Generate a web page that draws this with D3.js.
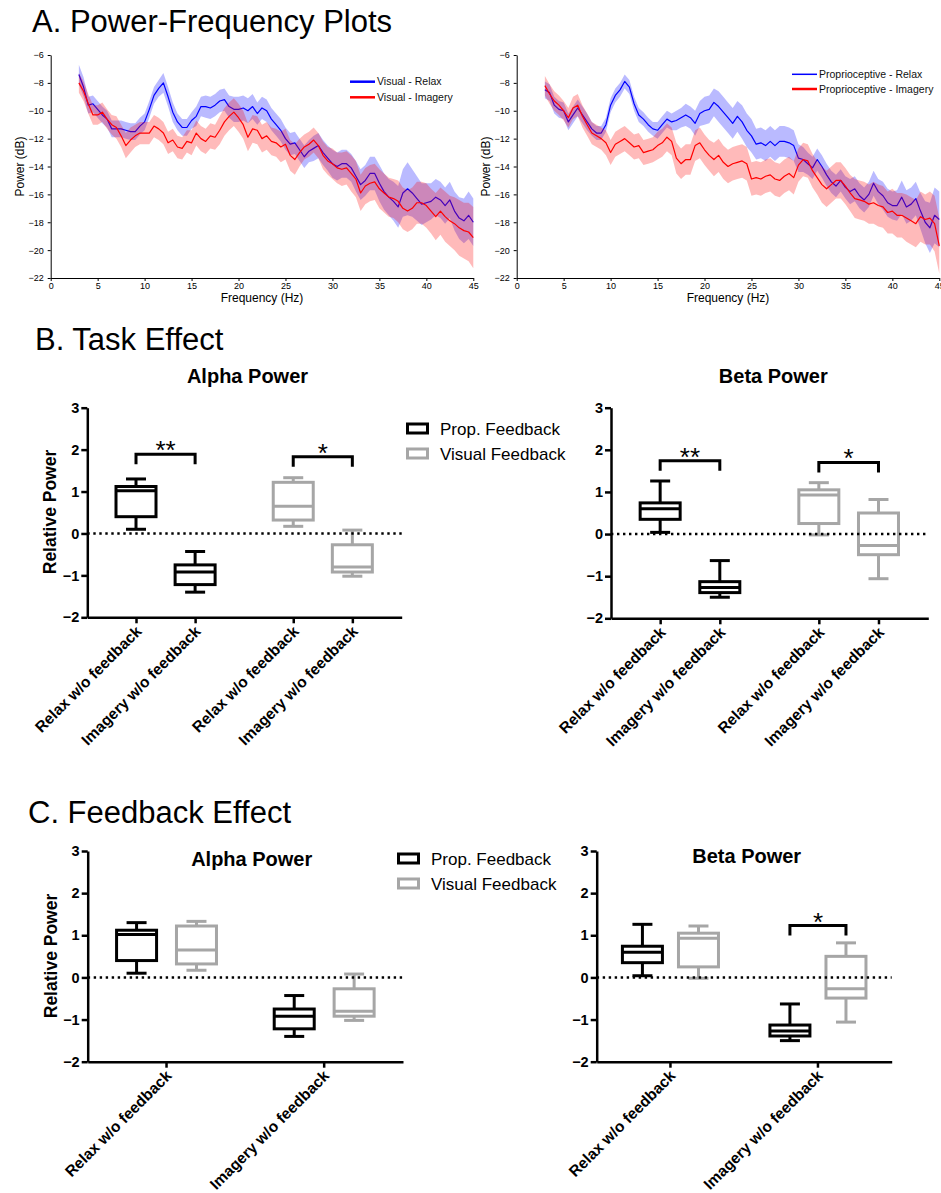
<!DOCTYPE html>
<html>
<head>
<meta charset="utf-8">
<script src="https://cdn.jsdelivr.net/npm/d3@7"></script>
<style>
  body { margin: 0; background: #fff; }
  svg { display: block; }
</style>
</head>
<body>
<svg id="fig" width="941" height="1193"></svg>
<script>
// ---------- Power spectra (mean and SEM, dB) ----------
const freqHz = [
  3, 3.5, 4, 4.5, 5, 5.5, 6, 6.5, 7, 7.5,
  8, 8.5, 9, 9.5, 10, 10.5, 11, 11.5, 12, 12.5,
  13, 13.5, 14, 14.5, 15, 15.5, 16, 16.5, 17, 17.5,
  18, 18.5, 19, 19.5, 20, 20.5, 21, 21.5, 22, 22.5,
  23, 23.5, 24, 24.5, 25, 25.5, 26, 26.5, 27, 27.5,
  28, 28.5, 29, 29.5, 30, 30.5, 31, 31.5, 32, 32.5,
  33, 33.5, 34, 34.5, 35, 35.5, 36, 36.5, 37, 37.5,
  38, 38.5, 39, 39.5, 40, 40.5, 41, 41.5, 42, 42.5,
  43, 43.5, 44, 44.5, 45
];

const visualRelax = [
  -7.4, -8.3, -9.6, -9.5, -9.9, -10.3, -10.6, -11.3, -11.3, -11.3,
  -11.4, -11.5, -11.5, -11.1, -10.8, -9.9, -8.9, -8.4, -8.0, -9.0,
  -10.1, -10.8, -11.2, -11.2, -10.7, -10.4, -9.7, -9.7, -9.8, -9.6,
  -9.3, -9.2, -9.7, -9.9, -9.9, -9.8, -10.0, -9.7, -10.2, -9.8,
  -10.0, -10.6, -11.0, -11.4, -12.0, -12.4, -12.3, -12.8, -13.3, -12.9,
  -12.7, -12.5, -13.0, -13.4, -13.8, -14.0, -13.8, -13.8, -14.1, -14.7,
  -15.3, -15.0, -14.5, -14.5, -15.2, -15.8, -16.2, -16.5, -16.9, -15.9,
  -15.6, -15.9, -16.3, -16.7, -16.6, -16.5, -16.2, -16.4, -16.8, -16.4,
  -17.2, -17.7, -17.9, -17.5, -18.0
];
const visualRelaxSem = [
  0.7, 0.7, 0.6, 0.6, 0.6, 0.6, 0.6, 0.6, 0.6, 0.6,
  0.6, 0.6, 0.6, 0.6, 0.6, 0.6, 0.6, 0.6, 0.7, 0.7,
  0.7, 0.6, 0.6, 0.6, 0.6, 0.7, 0.7, 0.8, 0.8, 0.8,
  0.8, 0.8, 0.8, 0.9, 0.9, 0.9, 0.9, 0.9, 0.8, 0.8,
  0.8, 0.8, 0.8, 0.8, 0.8, 0.8, 0.8, 0.8, 0.8, 0.8,
  0.9, 0.9, 0.9, 0.9, 1.0, 1.0, 1.0, 1.0, 1.0, 1.1,
  1.1, 1.1, 1.2, 1.2, 1.3, 1.3, 1.3, 1.4, 1.5, 1.7,
  1.9, 1.7, 1.6, 1.5, 1.4, 1.3, 1.3, 1.3, 1.3, 1.3,
  1.4, 1.5, 1.6, 1.7, 1.7
];
const visualImagery = [
  -8.0, -8.6, -9.5, -10.3, -10.3, -10.1, -10.6, -11.0, -11.2, -11.8,
  -12.5, -12.1, -11.8, -11.6, -11.6, -11.6, -11.1, -11.3, -11.6, -12.3,
  -12.1, -12.6, -12.7, -12.2, -12.3, -11.6, -12.0, -12.2, -11.8, -11.9,
  -11.4, -10.8, -10.4, -10.1, -10.5, -11.0, -11.9, -11.3, -11.4, -12.0,
  -11.8, -12.2, -12.3, -12.6, -12.4, -13.2, -13.5, -13.0, -12.6, -12.4,
  -12.1, -12.5, -13.2, -13.6, -13.8, -14.1, -14.2, -14.1, -14.5, -14.9,
  -15.9, -15.4, -15.2, -15.1, -15.6, -15.9, -16.2, -16.3, -16.5, -17.0,
  -17.2, -17.0, -16.6, -16.6, -16.8, -17.2, -17.6, -17.2, -17.6, -17.9,
  -18.1, -18.4, -18.6, -18.7, -19.1
];
const visualImagerySem = [
  0.7, 0.7, 0.7, 0.7, 0.7, 0.7, 0.7, 0.7, 0.8, 0.8,
  0.9, 0.9, 0.8, 0.8, 0.8, 0.8, 0.8, 0.8, 0.8, 0.8,
  0.8, 0.8, 0.8, 0.8, 0.9, 0.9, 0.9, 0.9, 0.9, 0.9,
  1.0, 1.0, 1.0, 1.0, 1.0, 1.0, 1.0, 1.0, 1.0, 1.0,
  1.0, 1.0, 1.0, 1.1, 1.1, 1.1, 1.1, 1.0, 0.9, 0.9,
  0.9, 0.9, 1.0, 1.0, 1.1, 1.1, 1.2, 1.2, 1.3, 1.3,
  1.3, 1.3, 1.3, 1.3, 1.4, 1.4, 1.4, 1.4, 1.5, 1.5,
  1.5, 1.5, 1.5, 1.5, 1.6, 1.6, 1.7, 1.7, 1.8, 1.8,
  1.9, 2.0, 2.0, 2.1, 2.2
];
const propRelax = [
  -8.5, -8.7, -9.6, -9.9, -10.0, -10.8, -10.3, -9.8, -10.3, -10.8,
  -11.3, -11.6, -11.6, -11.0, -9.6, -8.9, -8.5, -7.9, -8.3, -9.5,
  -10.3, -10.6, -11.0, -11.3, -11.4, -11.0, -10.6, -10.8, -10.7, -10.5,
  -10.3, -10.5, -10.9, -10.2, -10.0, -9.9, -9.4, -9.7, -10.1, -10.5,
  -10.9, -10.4, -10.8, -11.4, -11.8, -12.4, -12.3, -12.5, -12.2, -12.5,
  -12.2, -12.2, -12.3, -12.5, -13.4, -13.5, -13.8, -14.1, -13.5, -14.0,
  -14.6, -15.1, -15.4, -15.0, -15.5, -15.8, -15.6, -16.1, -16.4, -16.0,
  -15.2, -15.8, -16.1, -16.6, -16.8, -16.8, -16.2, -16.9, -16.7, -16.3,
  -17.2, -18.0, -18.4, -17.5, -17.8
];
const propRelaxSem = [
  0.6, 0.6, 0.6, 0.6, 0.6, 0.6, 0.6, 0.6, 0.6, 0.6,
  0.5, 0.5, 0.5, 0.5, 0.5, 0.5, 0.5, 0.5, 0.5, 0.5,
  0.5, 0.5, 0.5, 0.5, 0.6, 0.6, 0.6, 0.6, 0.7, 0.7,
  0.8, 0.8, 0.9, 0.9, 1.0, 1.0, 1.0, 1.1, 1.1, 1.1,
  1.1, 1.1, 1.2, 1.2, 1.2, 1.1, 1.1, 1.1, 1.1, 1.1,
  1.1, 1.1, 1.1, 1.1, 1.0, 0.9, 0.8, 0.8, 0.8, 0.8,
  0.8, 0.8, 0.8, 0.8, 0.8, 0.9, 0.9, 0.9, 0.9, 0.9,
  0.9, 0.9, 1.0, 1.0, 1.0, 1.1, 1.2, 1.2, 1.2, 1.2,
  1.3, 1.5, 1.8, 2.0, 2.0
];
const propImagery = [
  -8.2, -8.8, -9.3, -9.6, -10.0, -10.5, -9.8, -9.6, -10.4, -11.0,
  -11.6, -11.8, -12.0, -12.3, -13.0, -12.4, -12.2, -12.0, -12.3, -12.6,
  -12.5, -13.0, -12.9, -12.8, -12.5, -12.3, -11.9, -12.2, -13.4, -13.8,
  -13.5, -13.5, -12.5, -12.3, -12.8, -13.2, -13.5, -13.2, -13.7, -14.0,
  -13.8, -13.7, -13.6, -13.8, -14.9, -14.8, -14.9, -14.7, -14.6, -14.9,
  -15.0, -14.7, -14.5, -14.8, -13.9, -13.5, -13.6, -14.3, -14.8, -15.3,
  -15.6, -15.3, -15.0, -15.0, -15.4, -15.9, -16.3, -16.4, -16.5, -16.7,
  -16.6, -16.8, -16.9, -17.3, -17.2, -17.5, -17.5, -17.7, -17.9, -18.1,
  -17.6, -17.8, -17.7, -18.1, -19.7
];
const propImagerySem = [
  0.7, 0.7, 0.7, 0.7, 0.7, 0.7, 0.8, 0.8, 0.8, 0.8,
  0.8, 0.8, 0.8, 0.9, 0.9, 0.9, 0.9, 0.9, 0.9, 0.9,
  0.9, 0.9, 0.9, 0.9, 1.0, 1.0, 1.0, 1.0, 1.1, 1.1,
  1.1, 1.1, 1.1, 1.1, 1.1, 1.1, 1.2, 1.2, 1.2, 1.2,
  1.2, 1.2, 1.2, 1.2, 1.2, 1.2, 1.2, 1.2, 1.2, 1.2,
  1.2, 1.2, 1.2, 1.2, 1.2, 1.2, 1.2, 1.2, 1.2, 1.3,
  1.3, 1.3, 1.3, 1.3, 1.3, 1.3, 1.4, 1.4, 1.4, 1.4,
  1.5, 1.5, 1.5, 1.5, 1.6, 1.6, 1.6, 1.7, 1.7, 1.7,
  1.8, 1.8, 1.9, 2.0, 2.0
];
const dbTicks = [-6, -8, -10, -12, -14, -16, -18, -20, -22];
const hzTicks = [0, 5, 10, 15, 20, 25, 30, 35, 40, 45];

// ---------- Relative power box plots: [min, q1, median, q3, max] ----------
const alphaPropRelax = [0.10, 0.40, 1.02, 1.12, 1.30];
const alphaPropImagery = [-1.40, -1.22, -0.92, -0.75, -0.43];
const alphaVisRelax = [0.17, 0.32, 0.65, 1.22, 1.33];
const alphaVisImagery = [-1.02, -0.92, -0.80, -0.27, 0.08];
const betaPropRelax = [0.04, 0.35, 0.60, 0.74, 1.26];
const betaPropImagery = [-1.50, -1.39, -1.27, -1.13, -0.63];
const betaVisRelax = [-0.02, 0.25, 0.93, 1.05, 1.22];
const betaVisImagery = [-1.06, -0.49, -0.27, 0.50, 0.82];
const conditions = ["Relax w/o feedback", "Imagery w/o feedback"];
const feedbackGroups = ["Prop. Feedback", "Visual Feedback"];
const relTicks = [-2, -1, 0, 1, 2, 3];

// ---------- drawing ----------
const FONT = 'Arial, "Liberation Sans", Helvetica, sans-serif';
const BLACK = "#000000", GRAY = "#a6a6a6";
const svg = d3.select("#fig");
svg.append("rect").attr("width", 941).attr("height", 1193).attr("fill", "#fff");

function styleAxis(sel, size, weight, width) {
  sel.attr("font-family", FONT).attr("font-size", size).attr("font-weight", weight);
  sel.selectAll("path.domain").attr("stroke", "#000").attr("stroke-width", width);
  sel.selectAll(".tick line").attr("stroke", "#000").attr("stroke-width", width);
  sel.selectAll(".tick text").attr("fill", "#000");
}

function heading(txt, x, y) {
  svg.append("text").attr("x", x).attr("y", y).attr("font-family", FONT)
    .attr("font-size", 31).attr("fill", "#000").text(txt);
}

function spectrum(o) {
  const g = svg.append("g");
  const x = d3.scaleLinear().domain([0, 45]).range([o.left, o.right]);
  const y = d3.scaleLinear().domain([-22, -6]).range([o.bottom, o.top]);
  const band = (m, s) => d3.area()
    .x((d, i) => x(freqHz[i]))
    .y0((d, i) => y(m[i] - s[i]))
    .y1((d, i) => y(m[i] + s[i]));
  const trace = m => d3.line().x((d, i) => x(freqHz[i])).y((d, i) => y(m[i]));

  o.series.forEach(s => {
    g.append("path").datum(s.mean).attr("d", band(s.mean, s.sem))
      .attr("fill", s.color).attr("fill-opacity", 0.27).attr("stroke", "none");
    g.append("path").datum(s.mean).attr("d", trace(s.mean))
      .attr("fill", "none").attr("stroke", s.color).attr("stroke-width", 1.2)
      .attr("stroke-linejoin", "round");
  });

  const ya = g.append("g").attr("transform", `translate(${o.left},0)`)
    .call(d3.axisLeft(y).tickValues(dbTicks).tickSize(3).tickSizeOuter(0).tickPadding(4));
  styleAxis(ya, 9, "normal", 1);
  const xa = g.append("g").attr("transform", `translate(0,${o.bottom})`)
    .call(d3.axisBottom(x).tickValues(hzTicks).tickSize(3).tickSizeOuter(0).tickPadding(2));
  styleAxis(xa, 9, "normal", 1);

  g.append("text").attr("x", (o.left + o.right) / 2).attr("y", o.bottom + 24)
    .attr("text-anchor", "middle").attr("font-family", FONT).attr("font-size", 12)
    .text("Frequency (Hz)");
  g.append("text").attr("transform", `translate(${o.left - 27},${(o.top + o.bottom) / 2}) rotate(-90)`)
    .attr("text-anchor", "middle").attr("font-family", FONT).attr("font-size", 12)
    .text("Power (dB)");

  o.series.forEach((s, i) => {
    const ly = o.legendY + i * o.legendStep;
    g.append("line").attr("x1", o.legendX).attr("x2", o.legendX + 25)
      .attr("y1", ly).attr("y2", ly).attr("stroke", s.color).attr("stroke-width", s.legendWidth);
    g.append("text").attr("x", o.legendX + 27).attr("y", ly + 3.6)
      .attr("font-family", FONT).attr("font-size", 10.5).attr("fill", "#111").text(s.name);
  });
}

function drawBox(g, y, cx, stats, color, w) {
  const [mn, q1, med, q3, mx] = stats;
  const sw = 3;
  g.append("line").attr("x1", cx).attr("x2", cx).attr("y1", y(mx)).attr("y2", y(q3))
    .attr("stroke", color).attr("stroke-width", sw);
  g.append("line").attr("x1", cx).attr("x2", cx).attr("y1", y(q1)).attr("y2", y(mn))
    .attr("stroke", color).attr("stroke-width", sw);
  [mn, mx].forEach(v => g.append("line").attr("x1", cx - w / 4).attr("x2", cx + w / 4)
    .attr("y1", y(v)).attr("y2", y(v)).attr("stroke", color).attr("stroke-width", sw));
  g.append("rect").attr("x", cx - w / 2).attr("y", y(q3)).attr("width", w)
    .attr("height", y(q1) - y(q3)).attr("fill", "#fff").attr("stroke", color).attr("stroke-width", sw);
  g.append("line").attr("x1", cx - w / 2).attr("x2", cx + w / 2).attr("y1", y(med)).attr("y2", y(med))
    .attr("stroke", color).attr("stroke-width", sw);
}

function boxPanel(o) {
  const g = svg.append("g");
  const y = d3.scaleLinear().domain([-2, 3]).range([o.bottom, o.top]);
  const boxW = 40;

  o.boxes.forEach(b => drawBox(g, y, b.x, b.stats, b.color, boxW));

  // zero reference line
  g.append("line").attr("x1", o.left).attr("x2", o.right).attr("y1", y(0)).attr("y2", y(0))
    .attr("stroke", "#000").attr("stroke-width", 2.5).attr("stroke-dasharray", "2.4,3.6");

  (o.brackets || []).forEach(br => {
    const by = y(br.level), tip = 10;
    g.append("path").attr("d", `M${br.x1},${by + tip}V${by}H${br.x2}V${by + tip}`)
      .attr("fill", "none").attr("stroke", "#000").attr("stroke-width", 3);
    g.append("text").attr("x", (br.x1 + br.x2) / 2).attr("y", by + 5)
      .attr("text-anchor", "middle").attr("font-family", FONT).attr("font-size", 26)
      .text(br.label);
  });

  const ya = g.append("g").attr("transform", `translate(${o.left},0)`)
    .call(d3.axisLeft(y).tickValues(relTicks).tickFormat(d3.format("d")).tickSize(6).tickSizeOuter(0).tickPadding(2));
  styleAxis(ya, 14.5, "bold", 2.5);

  const xa = g.append("g").attr("transform", `translate(0,${o.bottom})`).call(o.xAxis);
  styleAxis(xa, 15.5, "bold", 2.5);
  xa.selectAll(".tick text").attr("x", 0).attr("y", 0).attr("dy", 0)
    .attr("text-anchor", "end").attr("transform", "translate(6,15) rotate(-45)");

  g.append("text").attr("x", o.titleX).attr("y", o.titleY).attr("text-anchor", "middle")
    .attr("font-family", FONT).attr("font-size", 20).attr("font-weight", "bold").text(o.title);

  if (o.yLabel) {
    g.append("text").attr("transform", `translate(${o.left - 31},${o.yLabelY}) rotate(-90)`)
      .attr("text-anchor", "middle").attr("font-family", FONT).attr("font-size", 17.5)
      .attr("font-weight", "bold").text(o.yLabel);
  }
}

function legend(x, y) {
  const colors = [BLACK, GRAY];
  feedbackGroups.forEach((name, i) => {
    const cy = y + i * 25;
    svg.append("rect").attr("x", x + 1.5).attr("y", cy - 4.5).attr("width", 20).attr("height", 9)
      .attr("fill", "#fff").attr("stroke", colors[i]).attr("stroke-width", 3);
    svg.append("text").attr("x", x + 34).attr("y", cy + 6).attr("font-family", FONT)
      .attr("font-size", 17).attr("fill", "#000").text(name);
  });
}

// ----- A. Power-Frequency Plots -----
heading("A. Power-Frequency Plots", 32, 32);
spectrum({
  left: 50.7, right: 473.3, top: 55, bottom: 278,
  legendX: 350, legendY: 81.7, legendStep: 15.6,
  series: [
    { name: "Visual - Relax", mean: visualRelax, sem: visualRelaxSem, color: "#0000ff", legendWidth: 2.5 },
    { name: "Visual - Imagery", mean: visualImagery, sem: visualImagerySem, color: "#ff0000", legendWidth: 2.5 }
  ]
});
spectrum({
  left: 516.7, right: 939.3, top: 55, bottom: 278,
  legendX: 792, legendY: 74.3, legendStep: 14.7,
  series: [
    { name: "Proprioceptive - Relax", mean: propRelax, sem: propRelaxSem, color: "#0000ff", legendWidth: 1.5 },
    { name: "Proprioceptive - Imagery", mean: propImagery, sem: propImagerySem, color: "#ff0000", legendWidth: 2.5 }
  ]
});

// ----- B. Task Effect: four boxes along a slot axis with a gap between feedback types -----
heading("B. Task Effect", 35, 350);
const taskSlots = [0, 1, 2.66, 3.66];
const taskLabels = [conditions[0], conditions[1], conditions[0], conditions[1]];

function taskPanel(left, right, top, bottom, stats, extra) {
  const xs = d3.scaleLinear().domain([-0.824, 4.495]).range([left, right]);
  const colors = [BLACK, BLACK, GRAY, GRAY];
  boxPanel(Object.assign({
    left, right, top, bottom,
    boxes: stats.map((s, i) => ({ x: xs(taskSlots[i]), stats: s, color: colors[i] })),
    xAxis: d3.axisBottom(xs).tickValues(taskSlots).tickFormat((d, i) => taskLabels[i])
      .tickSize(6).tickSizeOuter(0).tickPadding(3),
    brackets: extra.levels.map((lv, k) => ({
      x1: xs(taskSlots[2 * k]), x2: xs(taskSlots[2 * k + 1]), level: lv, label: extra.labels[k]
    }))
  }, extra));
}

taskPanel(87.3, 401.7, 407.7, 617.3,
  [alphaPropRelax, alphaPropImagery, alphaVisRelax, alphaVisImagery],
  { title: "Alpha Power", titleX: 247.5, titleY: 382.7, yLabel: "Relative Power", yLabelY: 512,
    levels: [1.89, 1.83], labels: ["**", "*"] });
taskPanel(611, 928.3, 407.7, 618.3,
  [betaPropRelax, betaPropImagery, betaVisRelax, betaVisImagery],
  { title: "Beta Power", titleX: 773.3, titleY: 382.7,
    levels: [1.74, 1.70], labels: ["**", "*"] });
legend(406, 428.5);

// ----- C. Feedback Effect: grouped by condition -----
heading("C. Feedback Effect", 28, 823);

function feedbackPanel(left, right, top, bottom, prop, vis, extra) {
  const xb = d3.scaleBand().domain(conditions).range([left, right]).padding(0);
  const off = 0.19 * xb.bandwidth();
  const boxes = [];
  conditions.forEach((c, i) => {
    const cx = xb(c) + xb.bandwidth() / 2;
    boxes.push({ x: cx - off, stats: prop[i], color: BLACK });
    boxes.push({ x: cx + off, stats: vis[i], color: GRAY });
  });
  const brackets = (extra.sig || []).map(s => {
    const cx = xb(s.condition) + xb.bandwidth() / 2;
    return { x1: cx - off, x2: cx + off, level: s.level, label: s.label };
  });
  boxPanel(Object.assign({
    left, right, top, bottom, boxes, brackets,
    xAxis: d3.axisBottom(xb).tickSize(6).tickSizeOuter(0).tickPadding(3)
  }, extra));
}

feedbackPanel(87.7, 403, 851, 1061.7,
  [alphaPropRelax, alphaPropImagery], [alphaVisRelax, alphaVisImagery],
  { title: "Alpha Power", titleX: 251.7, titleY: 866, yLabel: "Relative Power", yLabelY: 956 });
feedbackPanel(596.7, 891.7, 851, 1061.7,
  [betaPropRelax, betaPropImagery], [betaVisRelax, betaVisImagery],
  { title: "Beta Power", titleX: 746.7, titleY: 863.3,
    sig: [{ condition: conditions[1], level: 1.23, label: "*" }] });
legend(397, 858.5);
</script>
</body>
</html>
